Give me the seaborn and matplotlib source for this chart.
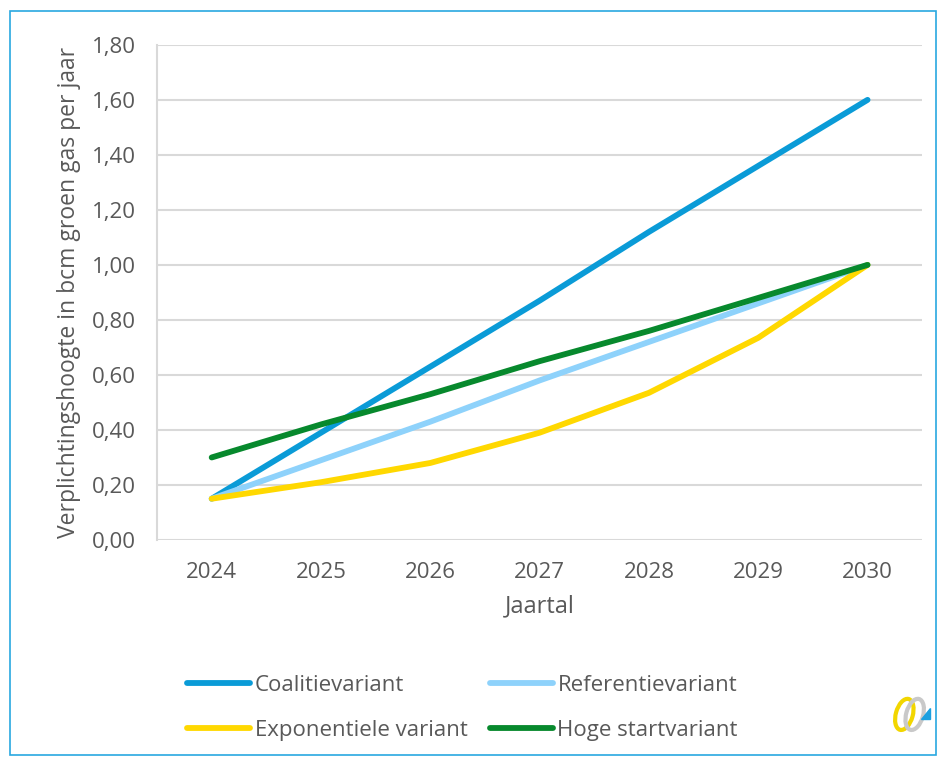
import pandas as pd
import seaborn as sns
import matplotlib.pyplot as plt
from matplotlib.patches import Rectangle, Ellipse, Polygon
from matplotlib.lines import Line2D

# data
years = [2024, 2025, 2026, 2027, 2028, 2029, 2030]
coalitie = [0.15, 0.39, 0.63, 0.87, 1.12, 1.36, 1.60]
referentie = [0.15, 0.29, 0.43, 0.58, 0.72, 0.86, 1.00]
exponentieel = [0.15, 0.21, 0.28, 0.39, 0.535, 0.735, 1.00]
hoge_start = [0.30, 0.42, 0.53, 0.65, 0.76, 0.88, 1.00]

series = ['Coalitievariant', 'Referentievariant', 'Exponentiele variant', 'Hoge startvariant']
colors = ['#0A9BD7', '#8ED2FB', '#FFD800', '#07892D']

df = pd.concat([
    pd.DataFrame({'Jaar': years, 'Waarde': vals, 'Variant': name})
    for name, vals in zip(series, [coalitie, referentie, exponentieel, hoge_start])
])

sns.set_style('white')
plt.rcParams['font.family'] = ['Open Sans', 'DejaVu Sans']
text_col = '#595959'

fig = plt.figure(figsize=(9.42, 7.6), dpi=100)
ax = fig.add_axes([0.1667, 0.2895, 0.8123, 0.6515])

sns.lineplot(ax=ax, data=df, x='Jaar', y='Waarde', hue='Variant', hue_order=series,
             palette=colors, linewidth=4.2, legend=False, solid_capstyle='round')

ax.set_xlim(2023.5, 2030.5)
ax.set_ylim(0, 1.8)
ax.set_xticks(years)
ax.set_xticklabels([str(y) for y in years])
yt = [i * 0.2 for i in range(10)]
ax.set_yticks(yt)
ax.set_yticklabels([f'{v:.2f}'.replace('.', ',') for v in yt])
ax.grid(axis='y', color='#D9D9D9', linewidth=1.5)
ax.set_axisbelow(True)
for side in ['top', 'right', 'bottom']:
    ax.spines[side].set_visible(False)
ax.spines['left'].set_color('#D9D9D9')
ax.spines['left'].set_linewidth(1.5)
ax.tick_params(axis='both', length=0, labelsize=16, labelcolor=text_col)
ax.tick_params(axis='x', pad=16)
ax.tick_params(axis='y', pad=15)

ax.set_xlabel('Jaartal', fontsize=17, color=text_col, labelpad=8)
ax.set_ylabel('Verplichtingshoogte in bcm groen gas per jaar', fontsize=16.5,
              color=text_col, labelpad=8)

# legend filled column by column, so order gives rows: Coalitie/Referentie, Exponentiele/Hoge start
order = [0, 2, 1, 3]
handles = [Line2D([0], [0], color=colors[i], linewidth=4.2, solid_capstyle='round') for i in order]
fig.legend(handles, [series[i] for i in order], loc='center left', bbox_to_anchor=(0.177, 0.0685),
           ncol=2, frameon=False, fontsize=16, labelcolor=text_col, handlelength=2.85,
           handletextpad=0.2, columnspacing=1.0, labelspacing=1.1)

# outer frame
fig.patches.append(Rectangle((0.011, 0.006), 0.983, 0.98, transform=fig.transFigure,
                             fill=False, edgecolor='#29A8E0', linewidth=1.2))

# small logo bottom right
lax = fig.add_axes([0.945, 0.03, 0.05, 0.06])
lax.set_xlim(0, 10)
lax.set_ylim(0, 10)
lax.axis('off')
lax.add_patch(Ellipse((3.0, 5), 3.6, 7, angle=-15, fill=False, edgecolor='#F2D600', linewidth=3))
lax.add_patch(Ellipse((5.2, 5), 3.6, 7, angle=-15, fill=False, edgecolor='#C9C9C9', linewidth=3))
lax.add_patch(Polygon([[6.5, 4], [8.5, 4], [8.5, 6.5]], color='#1BA0E0'))

fig.savefig('out.png', dpi=100)
